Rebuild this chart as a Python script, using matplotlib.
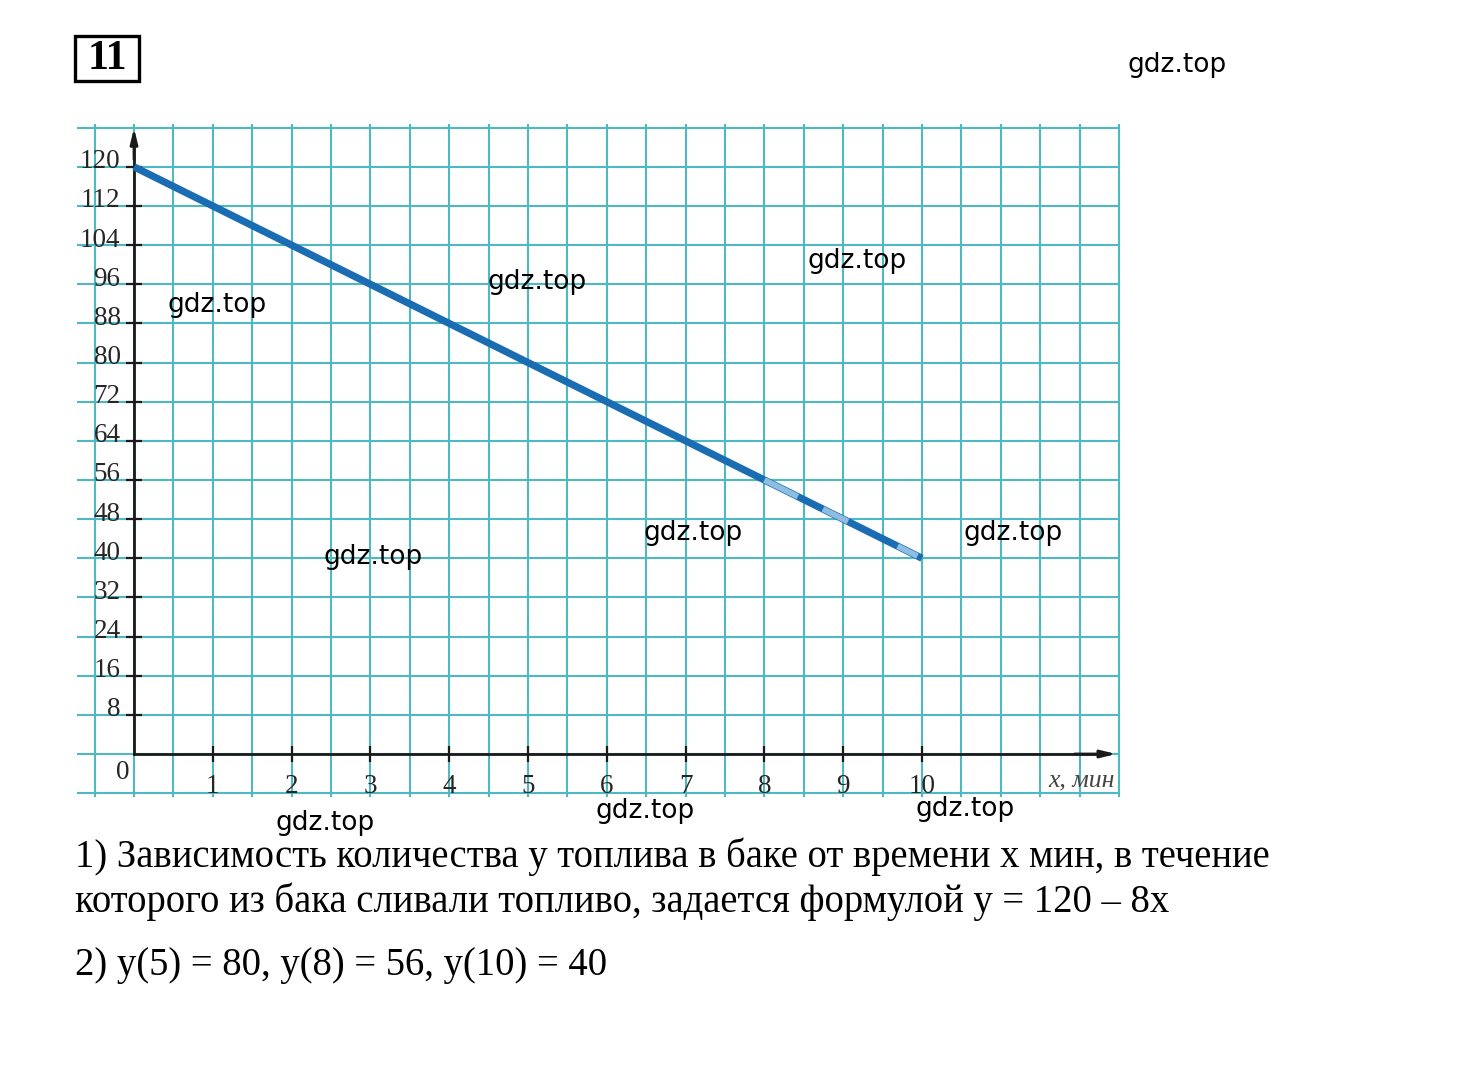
import matplotlib
matplotlib.use("Agg")
import matplotlib.pyplot as plt
from matplotlib.patches import Rectangle
import numpy as np

# ---- data ----
x_min = [0, 1, 2, 3, 4, 5, 6, 7, 8, 9, 10]
y_fuel = [120, 112, 104, 96, 88, 80, 72, 64, 56, 48, 40]
x_ticks = [1, 2, 3, 4, 5, 6, 7, 8, 9, 10]
y_ticks = [8, 16, 24, 32, 40, 48, 56, 64, 72, 80, 88, 96, 104, 112, 120]
x_tick_labels = [str(v) for v in x_ticks]
y_tick_labels = [str(v) for v in y_ticks]
problem_no = "11"
x_axis_label = "x, мин"
answer_lines = [
    "1) Зависимость количества у топлива в баке от времени х мин, в течение",
    "которого из бака сливали топливо, задается формулой у = 120 \u2013 8х",
    "2) y(5) = 80, y(8) = 56, y(10) = 40",
]
watermarks = [(1177, 65), (217, 305), (537, 282), (857, 261), (373, 557),
              (693, 533), (1013, 533), (645, 811), (965, 809), (325, 823)]

W, H = 1460, 1065
fig = plt.figure(figsize=(W / 100, H / 100), dpi=100)
fig.patch.set_facecolor("white")
ax = fig.add_axes([0, 0, 1, 1])
ax.set_facecolor("none")

# pixel <-> data mapping (origin at px 134,754)
PX_X = 78.8
PX_Y = 4.893
ax.set_xlim(-134 / PX_X, (W - 134) / PX_X)
ax.set_ylim((754 - H) / PX_Y, 754 / PX_Y)

def fx(px):
    return px / W

def fy(py):
    return 1 - py / H

# ---- grid (graph paper) ----
grid_c = "#4fb9c1"
ax.vlines(np.arange(-0.5, 12.51, 0.5), -8.8, 128.8, color=grid_c, lw=1.5, zorder=1)
ax.hlines(np.arange(-8, 128.1, 8), -0.72, 12.5, color=grid_c, lw=1.5, zorder=1)

# ---- axes ----
for s in ["top", "right"]:
    ax.spines[s].set_visible(False)
ax.spines["left"].set_position(("data", 0))
ax.spines["bottom"].set_position(("data", 0))
ax.spines["left"].set_bounds(0, 125)
ax.spines["bottom"].set_bounds(0, 12.2)
for s in ["left", "bottom"]:
    ax.spines[s].set_linewidth(2.0)
    ax.spines[s].set_color("#1a1a1a")
    ax.spines[s].set_zorder(3)
ax.set_xticks(x_ticks)
ax.set_yticks(y_ticks)
ax.tick_params(axis="both", direction="inout", length=11, width=1.6,
               color="#1a1a1a", labelbottom=False, labelleft=False)
ax.annotate("", xy=(0, 128.5), xytext=(0, 121),
            arrowprops=dict(arrowstyle="-|>,head_length=0.9,head_width=0.22",
                            color="#1a1a1a", lw=2), zorder=4)
ax.annotate("", xy=(12.5, 0), xytext=(11.9, 0),
            arrowprops=dict(arrowstyle="-|>,head_length=0.9,head_width=0.22",
                            color="#1a1a1a", lw=2), zorder=4)

serif = "Liberation Serif"
for v, lab in zip(y_ticks, y_tick_labels):
    ax.text(-0.17, v - 0.3, lab, ha="right", va="baseline", fontsize=19.5,
            family=serif, color="#262626", zorder=4)
for v, lab in zip(x_ticks, x_tick_labels):
    ax.text(v, -8.0, lab, ha="center", va="baseline", fontsize=19.5,
            family=serif, color="#262626", zorder=4)
ax.text(-0.14, -3.7, "0", ha="center", va="center", fontsize=19.5,
        family=serif, color="#262626", zorder=4)
ax.text(12.45, -6.6, x_axis_label, ha="right", va="baseline", fontsize=18.5,
        family=serif, style="italic", color="#444444", zorder=4)

# ---- the line ----
ax.plot(x_min, y_fuel, color="#1b6db3", lw=5.2, solid_capstyle="butt", zorder=5)
# faded scan segments on the tail
ax.plot(x_min[8:], y_fuel[8:], color="#8dbde0", lw=4.2, zorder=6,
        solid_capstyle="butt",
        linestyle=(0, (6.4, 4.8, 4.8, 9.5, 3.8, 30)))

# ---- texts ----
for (px, py) in watermarks:
    fig.text(fx(px), fy(py), "gdz.top", ha="center", va="center",
             fontsize=19, family="DejaVu Sans", color="black", zorder=10)

fig.patches.append(Rectangle((fx(75), fy(81)), (139 - 75) / W, (81 - 36) / H,
                             transform=fig.transFigure, fill=False,
                             ec="black", lw=2.4))
fig.text(fx(107), fy(59), problem_no, ha="center", va="center", fontsize=30,
         family=serif, weight="bold", color="black")

baselines = [867, 912, 975]
for line, b in zip(answer_lines, baselines):
    fig.text(fx(75), fy(b), line, ha="left", va="baseline", fontsize=27.8,
             family=serif, color="black")

fig.savefig("out.png", dpi=100, facecolor="white")
